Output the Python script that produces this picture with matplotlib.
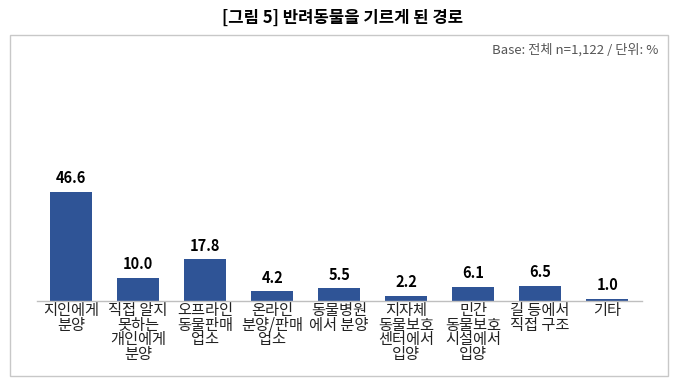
import matplotlib
matplotlib.use('Agg')
import matplotlib.pyplot as plt
from matplotlib.patches import Rectangle

plt.rcParams['font.family'] = ['Noto Sans CJK KR', 'DejaVu Sans']

# === Data ===
categories = [
    '지인에게\n분양',
    '직접 알지\n못하는\n개인에게\n분양',
    '오프라인\n동물판매\n업소',
    '온라인\n분양/판매\n업소',
    '동물병원\n에서 분양',
    '지자체\n동물보호\n센터에서\n입양',
    '민간\n동물보호\n시설에서\n입양',
    '길 등에서\n직접 구조',
    '기타',
]
values = [46.6, 10.0, 17.8, 4.2, 5.5, 2.2, 6.1, 6.5, 1.0]

TITLE = '[그림 5] 반려동물을 기르게 된 경로'
BASE_NOTE = 'Base: 전체 n=1,122 / 단위: %'
BAR_COLOR = '#2f5496'

W, H = 680, 389
fig = plt.figure(figsize=(W / 100, H / 100), dpi=100)

# outer frame around the chart
fig.patches.append(Rectangle((10 / W, 1 - 376 / H), 658 / W, 341 / H,
                             transform=fig.transFigure, fill=False,
                             edgecolor='#c8c8c8', linewidth=1.0))

fig.text(343 / W, 1 - 18 / H, TITLE, ha='center', va='center',
         fontsize=12, fontweight='bold')
fig.text(658 / W, 1 - 50 / H, BASE_NOTE, ha='right', va='center',
         fontsize=9.5, color='#555555')

# axes in pixel geometry: baseline at y=301, 2.34 px per unit
y_top = 50
ax = fig.add_axes([37 / W, 1 - 301 / H, (642 - 37) / W, y_top * 2.34 / H])
x = range(len(values))
bars = ax.bar(x, values, width=0.63, color=BAR_COLOR)
ax.set_xlim(-0.51, len(values) - 0.48)
ax.set_ylim(0, y_top)

for b, v in zip(bars, values):
    ax.annotate(f'{v:.1f}', (b.get_x() + b.get_width() / 2, v),
                xytext=(0, 4), textcoords='offset points',
                ha='center', va='bottom', fontsize=10.5, fontweight='bold')

ax.set_xticks(list(x))
ax.set_xticklabels(categories, fontsize=11, linespacing=0.8, color='#222222')
ax.tick_params(axis='x', length=0, pad=1)
ax.set_yticks([])
for s in ['left', 'right', 'top']:
    ax.spines[s].set_visible(False)
ax.spines['bottom'].set_color('#bfbfbf')
ax.spines['bottom'].set_linewidth(1.0)

fig.savefig('out.png', dpi=100)
